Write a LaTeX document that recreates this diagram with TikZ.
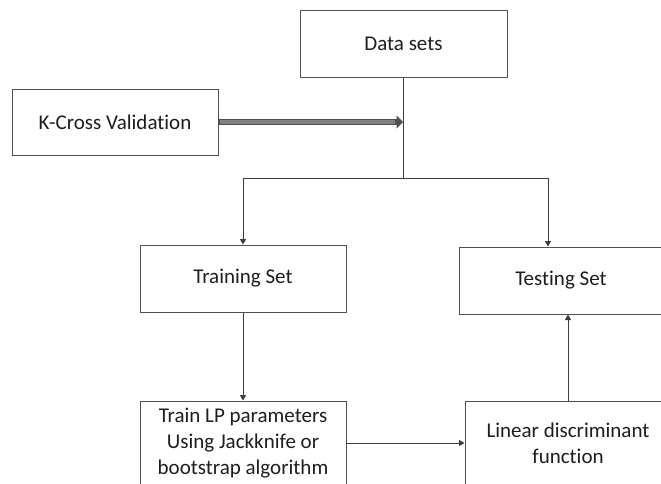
\documentclass[tikz,border=0pt]{standalone}
\usepackage{fontspec}
\setmainfont{Carlito}[Ligatures=CommonOff]
\usetikzlibrary{arrows.meta,calc}
\definecolor{edgec}{HTML}{3C3C3C}
\definecolor{boxc}{HTML}{505050}
\definecolor{txtc}{HTML}{1E1E1E}
\definecolor{fatfill}{HTML}{808080}
\begin{document}
\begin{tikzpicture}[x=1pt,y=-1pt,
  box/.style={draw=boxc,line width=1pt,fill=white,text=txtc,align=center,inner sep=0pt,
    font=\fontsize{21}{25.6}\selectfont},
  conn/.style={draw=edgec,line width=0.9pt},
  arr/.style={conn,-{Triangle[length=5.5pt,width=6pt]}}]
\useasboundingbox (0,0) rectangle (661,483);
\clip (0,0) rectangle (661,483);
\fill[white] (0,0) rectangle (661,483);
% boxes
\node[box,minimum width=207pt,minimum height=67pt] (ds) at (403.5,43.5) {Data sets};
\node[box,minimum width=206pt,minimum height=66pt] (kcv) at (115,122) {K-Cross Validation};
\node[box,minimum width=206pt,minimum height=67pt] (tr) at (243,278.5) {Training Set};
\node[box,minimum width=204pt,minimum height=67pt] (te) at (561,280.5) {Testing Set};
\node[box,minimum width=206pt,minimum height=84pt] (lp) at (243,443) {Train LP parameters\\Using Jackknife or\\bootstrap algorithm};
\node[box,minimum width=206pt,minimum height=84pt] (ld) at (568,443) {Linear discriminant\\function};
% junction coordinates
\coordinate (jn) at (403,178);
\coordinate (jl) at (243,178);
\coordinate (jr) at (548,178);
\coordinate (kin) at (403,122);
% connectors from Data sets
\draw[conn] (ds.south -| jn) -- (jn);
\draw[conn] (jl) -- (jr);
\draw[arr] (jl) -- (tr.north -| jl);
\draw[arr] (jr) -- (te.north -| jr);
% fat arrow from K-Cross Validation
\draw[draw=boxc,line width=6pt,-{Triangle[length=6.5pt,width=13pt]}] (kcv.east) -- (kin);
\draw[draw=fatfill,line width=3.8pt] ($(kcv.east)+(1,0)$) -- ($(kin)+(-8,0)$);
% lower connectors
\draw[arr] (tr.south) -- (lp.north);
\draw[arr] (lp.east) -- (ld.west);
\draw[arr] (ld.north) -- (ld.north |- te.south);
\end{tikzpicture}
\end{document}
